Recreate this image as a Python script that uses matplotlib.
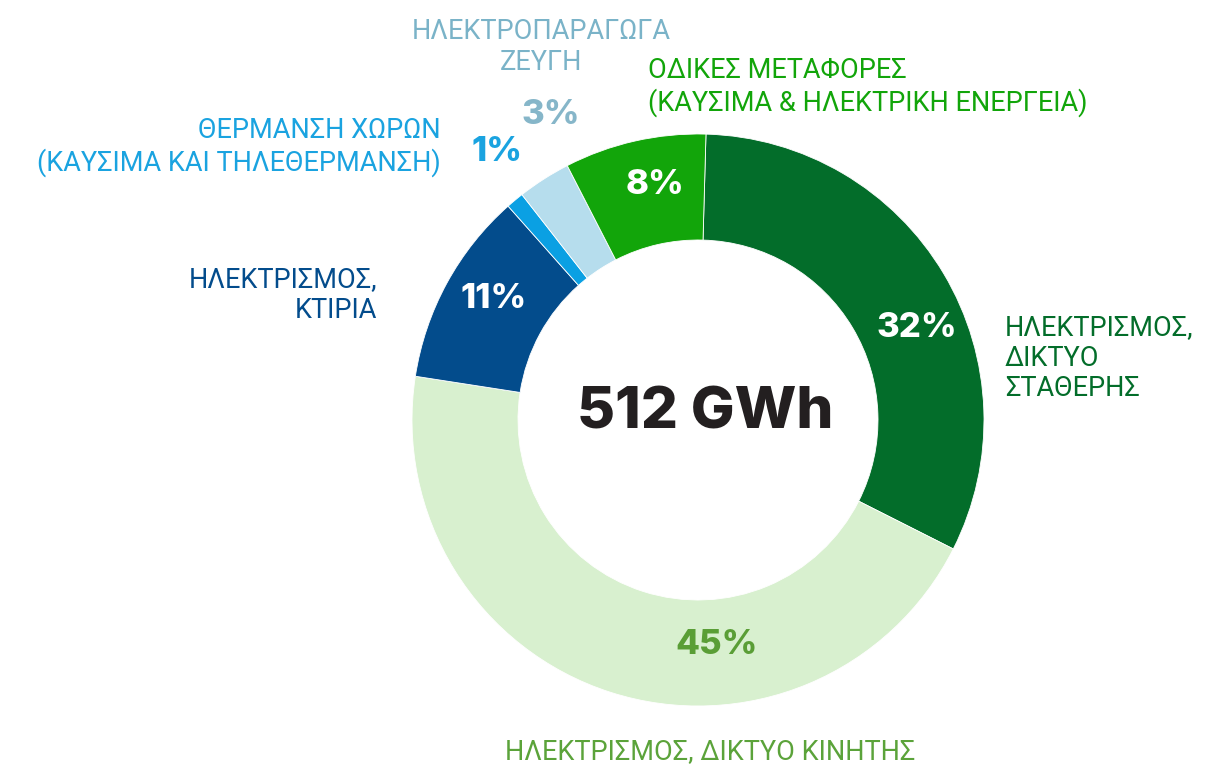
import matplotlib.pyplot as plt

shares = [32, 45, 11, 1, 3, 8]
pct_labels = ["32%", "45%", "11%", "1%", "3%", "8%"]
wedge_colors = ["#036d2a", "#d8f0cf", "#034c8c", "#0aa0e3", "#b6dded", "#12a50a"]
total_label = "512 GWh"

# category texts: (text, x, y, ha, colour) in pixel coords of the 1208x765 canvas
cat_texts = [
    ("ΗΛΕΚΤΡΙΣΜΟΣ,\nΔΙΚΤΥΟ\nΣΤΑΘΕΡΗΣ", 1005, 358, "left", "#036d2a"),
    ("ΗΛΕΚΤΡΙΣΜΟΣ, ΔΙΚΤΥΟ ΚΙΝΗΤΗΣ", 710, 752, "center", "#5ba33a"),
    ("ΗΛΕΚΤΡΙΣΜΟΣ,\nΚΤΙΡΙΑ", 377, 295, "right", "#034c8c"),
    ("ΘΕΡΜΑΝΣΗ ΧΩΡΩΝ\n(ΚΑΥΣΙΜΑ ΚΑΙ ΤΗΛΕΘΕΡΜΑΝΣΗ)", 441, 147, "right", "#1aa3e0"),
    ("ΗΛΕΚΤΡΟΠΑΡΑΓΩΓΑ\nΖΕΥΓΗ", 541, 47, "center", "#7ab3c8"),
    ("ΟΔΙΚΕΣ ΜΕΤΑΦΟΡΕΣ\n(ΚΑΥΣΙΜΑ & ΗΛΕΚΤΡΙΚΗ ΕΝΕΡΓΕΙΑ)", 648, 87, "left", "#12a50a"),
]
pct_pos = [(917, 328), (717, 645), (494, 299), (497, 152), (551, 115), (655, 185)]
pct_colors = ["white", "#5a9e36", "white", "#1aa3e0", "#86b6c9", "white"]

W, H = 1208, 765
fig = plt.figure(figsize=(W / 100, H / 100), dpi=100)
ax = fig.add_axes([0, 0, 1, 1])

ax.pie(shares, colors=wedge_colors, startangle=88.4, counterclock=False,
       center=(698, H - 420), radius=286, frame=True,
       wedgeprops=dict(width=106, edgecolor="white", linewidth=0.6))
ax.set_xlim(0, W)
ax.set_ylim(0, H)
ax.set_aspect("equal")
ax.axis("off")

lab_font = ["Roboto", "DejaVu Sans"]
for txt, x, y, ha, c in cat_texts:
    ax.text(x, H - y, txt, ha=ha, va="center", color=c, fontsize=19.5,
            family=lab_font, fontweight="normal", linespacing=1.15)

for p, (x, y), c in zip(pct_labels, pct_pos, pct_colors):
    ax.text(x, H - y, p, ha="center", va="center", color=c, fontsize=25,
            family=["Inter", "DejaVu Sans"], fontweight="heavy")

ax.text(705, H - 413, total_label, ha="center", va="center", color="#231f20",
        fontsize=42, family=["Inter", "DejaVu Sans"], fontweight="heavy")

fig.savefig("out.png", dpi=100)
